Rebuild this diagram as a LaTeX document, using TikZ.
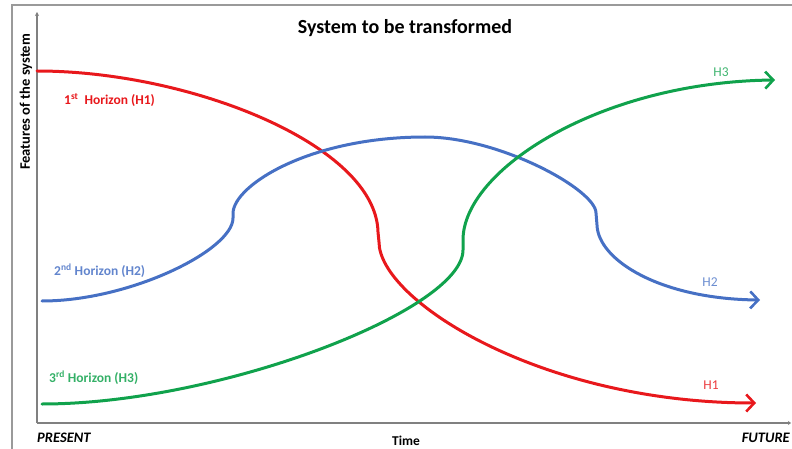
\documentclass[tikz,border=0pt]{standalone}
\usepackage{fontspec}
\setmainfont{Carlito}
\usetikzlibrary{arrows.meta}
\definecolor{hred}{RGB}{232,24,28}
\definecolor{hblue}{RGB}{70,112,196}
\definecolor{hgreen}{RGB}{16,162,76}
\definecolor{axisgray}{RGB}{128,128,128}
\tikzset{
  curve/.style={line width=3pt, line cap=round, -{Straight Barb[length=8pt,width=17pt,line width=2.6pt]}},
  lbl/.style={font=\bfseries\fontsize{13.5}{15}\selectfont, inner sep=0pt, anchor=west},
  endlbl/.style={font=\fontsize{13.5}{15}\selectfont, inner sep=0pt},
  axis/.style={axisgray, line width=1.8pt},
}
\begin{document}
\begin{tikzpicture}[x=1pt,y=-1pt]
\useasboundingbox (0,0) rectangle (792,449);
% frame
\draw[axisgray!80, line width=1.6pt] (12,449) -- (12,5) -- (792,5);
% axes
\coordinate (origin) at (37,423);
\coordinate (ytop) at (37,12);
\coordinate (xend) at (791,423);
\draw[axis, -{Stealth[length=4pt,width=4pt]}] (origin) -- (ytop);
\draw[axis, -{Stealth[length=3pt,width=4pt]}] (origin) -- (xend);
% red H1
\coordinate (r0) at (37,71);
\coordinate (r1) at (378,232);
\coordinate (r2) at (379,242);
\coordinate (r3) at (756,403);
\draw[hred, curve] (r0) .. controls (190,71) and (376,145) .. (r1) -- (r2)
  .. controls (379,300) and (540,403) .. (r3);
% blue H2
\coordinate (b0) at (42,301);
\coordinate (b1) at (233,218);
\coordinate (b2) at (233,213);
\coordinate (b3) at (425,137);
\coordinate (b4) at (596,213);
\coordinate (b5) at (597,225);
\coordinate (b6) at (760,300);
\draw[hblue, curve] (b0) .. controls (130,301) and (233,250) .. (b1) -- (b2)
  .. controls (234,185) and (310,137) .. (b3)
  .. controls (500,137) and (596,190) .. (b4) -- (b5)
  .. controls (598,260) and (660,299) .. (b6);
% green H3
\coordinate (g0) at (42,404);
\coordinate (g1) at (463,250);
\coordinate (g2) at (463,240);
\coordinate (g3) at (775,80);
\draw[hgreen, curve] (g0) .. controls (220,404) and (463,310) .. (g1) -- (g2)
  .. controls (463,170) and (600,82) .. (g3);
% texts
\node[font=\bfseries\fontsize{20}{23}\selectfont, inner sep=0pt] (title) at (405,28) {System to be transformed};
\node[font=\bfseries\fontsize{14.5}{16}\selectfont, rotate=90, inner sep=0pt] (ylabel) at (26,102) {Features of the system};
\node[lbl, text=hred] (l1) at (64,100) {1\textsuperscript{st}\ \ Horizon (H1)};
\node[lbl, text=hblue!85] (l2) at (54,271) {2\textsuperscript{nd} Horizon (H2)};
\node[lbl, text=hgreen!85] (l3) at (49,378) {3\textsuperscript{rd} Horizon (H3)};
\node[endlbl, text=hgreen!80] (e3) at (721,72) {H3};
\node[endlbl, text=hblue!80] (e2) at (710,282) {H2};
\node[endlbl, text=hred!85] (e1) at (711,385) {H1};
\node[font=\bfseries\itshape\fontsize{14.5}{16}\selectfont, inner sep=0pt, anchor=west] (present) at (37,438) {PRESENT};
\node[font=\bfseries\fontsize{13.5}{15}\selectfont, inner sep=0pt] (time) at (406,441) {Time};
\node[font=\bfseries\itshape\fontsize{14.5}{16}\selectfont, inner sep=0pt, anchor=east] (future) at (790,438) {FUTURE};
\end{tikzpicture}
\end{document}
